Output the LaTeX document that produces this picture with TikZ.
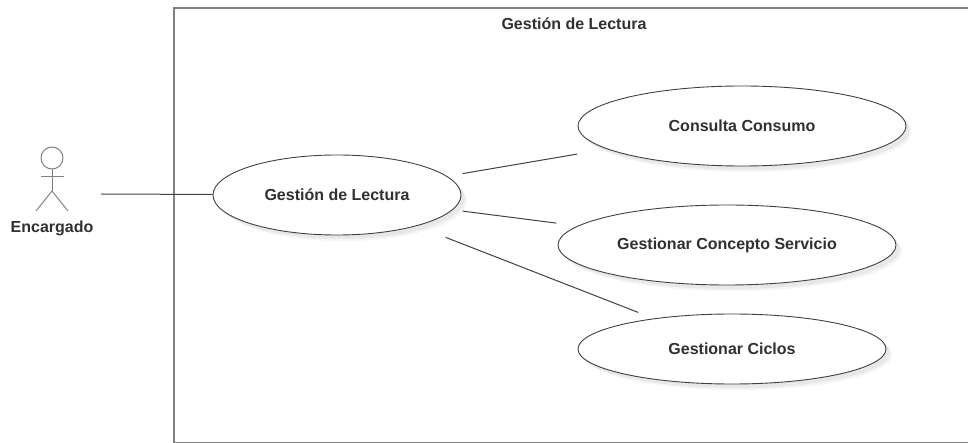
\documentclass[tikz,border=0pt]{standalone}
\usepackage{fontspec}
\setmainfont{Liberation Sans}
\usetikzlibrary{positioning,shapes.geometric,shadows}

\definecolor{linea}{HTML}{404040}
\definecolor{marco}{HTML}{808080}
\definecolor{texto}{HTML}{303030}

\begin{document}
\begin{tikzpicture}[x=1pt,y=-1pt,
	every node/.style={font=\fontsize{16}{18}\selectfont\bfseries, text=texto},
	casouso/.style={ellipse,draw=linea,line width=0.9pt,fill=white,inner sep=0pt,
		drop shadow={shadow xshift=6pt,shadow yshift=-6pt,fill=black!4,opacity=1},
		drop shadow={shadow xshift=4pt,shadow yshift=-4pt,fill=black!9,opacity=1}},
	actor/.style={draw=marco,line width=1pt},
	enlace/.style={draw=linea,line width=1pt}]
	\clip (0,0) rectangle (968,443);
	
	% marco del sistema
	\node[draw=marco,line width=1.7pt,minimum width=810pt,minimum height=434pt,inner sep=0pt,anchor=north west] (sistema) at (173,7.5) {};
	\node (titulo) at (574,24) {Gestión de Lectura};
	
	% actor
	\node[circle,actor,minimum size=22pt,inner sep=0pt] (cabeza) at (52,158) {};
	\coordinate (cadera) at (52,191);
	\coordinate (brazoi) at (41,177);
	\coordinate (brazod) at (64,177);
	\coordinate (pieizq) at (36,211);
	\coordinate (pieder) at (68,211);
	\coordinate (finactor) at (101,194);
	\draw[actor] (cabeza)--(cadera);
	\draw[actor] (brazoi)--(brazod);
	\draw[actor] (pieizq)--(cadera)--(pieder);
	\node (encargado) at (52,228) {Encargado};
	
	% casos de uso
	\node[casouso,minimum width=248pt,minimum height=80pt] (lectura) at (337,195) {Gestión de Lectura};
	\node[casouso,minimum width=328pt,minimum height=80pt] (consumo) at (742,126) {Consulta Consumo};
	\node[casouso,minimum width=338pt,minimum height=80pt] (concepto) at (727,245) {Gestionar Concepto Servicio};
	\node[casouso,minimum width=308pt,minimum height=70pt] (ciclos) at (732,349) {Gestionar Ciclos};
	
	% enlaces
	\draw[enlace] (finactor)--(lectura);
	\draw[enlace,shorten <=15.6pt,shorten >=30pt] (lectura)--(consumo);
	\draw[enlace,shorten <=9.9pt,shorten >=21.6pt] (lectura)--(concepto);
	\draw[enlace,shorten <=31.1pt,shorten >=16.6pt] (lectura)--(ciclos);
\end{tikzpicture}
\end{document}
